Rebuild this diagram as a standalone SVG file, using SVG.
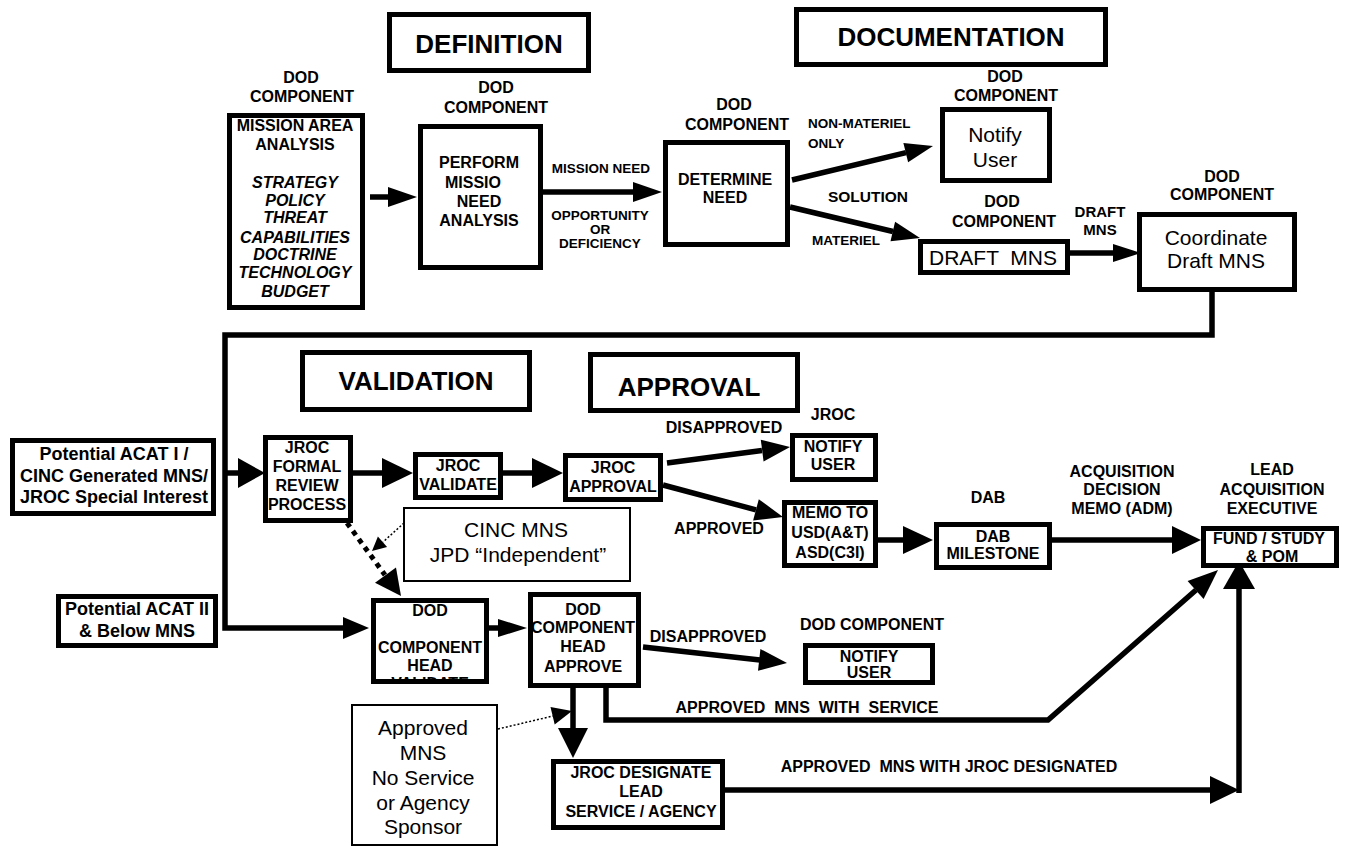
<svg xmlns="http://www.w3.org/2000/svg" width="1349" height="857" viewBox="0 0 1349 857">
<style>
text{font-family:"Liberation Sans",Arial,sans-serif;fill:#000;text-anchor:middle}
.b16{font-weight:bold;font-size:16px}
.b13{font-weight:bold;font-size:13.5px}
.b18{font-weight:bold;font-size:18px}
.bi{font-weight:bold;font-style:italic;font-size:16px}
.r21{font-size:21px}
.t26{font-weight:bold;font-size:26px}
.st{text-anchor:start}
.box{fill:#fff;stroke:#000;stroke-width:5}
.thin{fill:#fff;stroke:#000;stroke-width:2}
.ln{fill:none;stroke:#000;stroke-width:5.5}
.hd{fill:#000;stroke:none}
</style>
<defs>
<clipPath id="clipVal"><rect x="373" y="600" width="113" height="79"/></clipPath>
</defs>
<rect width="1349" height="857" fill="#fff"/>

<g id="title-definition"><rect class="box" x="389.5" y="14.5" width="199" height="56"/><text class="t26" x="489" y="53">DEFINITION</text></g>
<g id="title-documentation"><rect class="box" x="796.5" y="9.5" width="309" height="55"/><text class="t26" x="951" y="46">DOCUMENTATION</text></g>
<g id="title-validation"><rect class="box" x="302.5" y="352.5" width="227" height="57"/><text class="t26" x="416" y="390">VALIDATION</text></g>
<g id="title-approval"><rect class="box" x="590.5" y="354.5" width="207" height="56"/><text class="t26" x="689" y="396">APPROVAL</text></g>

<g id="connectors">
<path class="ln" d="M370,197 H390"/><polygon class="hd" points="417,197 388,187 388,207"/>
<path class="ln" d="M543,192 H635"/><polygon class="hd" points="662,192 633,182 633,202"/>
<path class="ln" d="M792,180 L906,152.6"/><polygon class="hd" points="933,146 908.1,162.3 903.4,142.9"/>
<path class="ln" d="M790,207 L893,231.5"/><polygon class="hd" points="920,238 890.5,241.2 895.1,221.8"/>
<path class="ln" d="M1070,253 H1115"/><polygon class="hd" points="1141,253 1113,244 1113,262"/>
<path class="ln" d="M1212,292 V335 H225 V628 H345"/><polygon class="hd" points="369,628 343,617 343,639"/>
<path class="ln" d="M225,473 H241"/><polygon class="hd" points="265,473 238,458 238,488"/>
<path class="ln" d="M353,473 H385"/><polygon class="hd" points="413,473 382,458 382,488"/>
<path class="ln" d="M503,473 H535"/><polygon class="hd" points="563,473 532,458 532,488"/>
<path class="ln" d="M667,463 L762,450.6"/><polygon class="hd" points="790,447 763.6,461.5 760.8,439.7"/>
<path class="ln" d="M663,485 L756,509.8"/><polygon class="hd" points="783,517 753.1,520.4 758.8,499.2"/>
<path class="ln" d="M878,540 H905"/><polygon class="hd" points="933,540 903,526 903,554"/>
<path class="ln" d="M1052,540 H1174"/><polygon class="hd" points="1201,540 1172,526 1172,554"/>
<path fill="none" stroke="#000" stroke-width="5" stroke-dasharray="5 5" d="M347,523 L385,575"/><polygon class="hd" points="401,596 375,582.8 396,567.4"/>
<path fill="none" stroke="#000" stroke-width="1.5" stroke-dasharray="2 2" d="M404,523 L383,542"/><polygon class="hd" points="372,551 377.9,536.5 387.1,547.1"/>
<path class="ln" d="M489,628 H500"/><polygon class="hd" points="527,628 498,619 498,637"/>
<path class="ln" d="M643,647 L760,659.9"/><polygon class="hd" points="787,663 758,670.8 760.4,649"/>
<path class="ln" d="M573,688 V730"/><polygon class="hd" points="573,758 558,728 588,728"/>
<path fill="none" stroke="#000" stroke-width="1.5" stroke-dasharray="2 2" d="M498,729 L553,716"/><polygon class="hd" points="572,711 554.7,724.4 550.5,707"/>
<path class="ln" d="M606,688 V720 H1048 L1196,590"/><polygon class="hd" points="1218,570 1203.6,598.9 1187.6,581.1"/>
<path class="ln" d="M725,790 H1212"/><polygon class="hd" points="1239,790 1210,776 1210,804"/>
<path class="ln" d="M1239,793 V586"/><polygon class="hd" points="1239,561 1223,589 1255,589"/>
<text class="b13" x="601" y="173">MISSION NEED</text>
<text class="b13" x="600" y="220">OPPORTUNITY</text>
<text class="b13" x="600" y="234">OR</text>
<text class="b13" x="600" y="248">DEFICIENCY</text>
<text class="b13 st" x="808" y="128">NON-MATERIEL</text>
<text class="b13 st" x="808" y="148">ONLY</text>
<text class="b16" x="868" y="202" style="font-size:15.5px">SOLUTION</text>
<text class="b13 st" x="812" y="245">MATERIEL</text>
<text class="b16" x="1100" y="217" style="font-size:15px">DRAFT</text>
<text class="b16" x="1100" y="235" style="font-size:15px">MNS</text>
<text class="b16" x="724" y="433">DISAPPROVED</text>
<text class="b16" x="719" y="534">APPROVED</text>
<text class="b16" x="1122" y="477">ACQUISITION</text>
<text class="b16" x="1122" y="495">DECISION</text>
<text class="b16" x="1122" y="514">MEMO (ADM)</text>
<text class="b16" x="708" y="642">DISAPPROVED</text>
<text class="b16" x="807" y="713" xml:space="preserve">APPROVED  MNS  WITH  SERVICE</text>
<text class="b16" x="949" y="772" xml:space="preserve">APPROVED  MNS WITH JROC DESIGNATED</text>
</g>

<g id="mission-area">
<text class="b16" x="301" y="83">DOD</text><text class="b16" x="302" y="102">COMPONENT</text>
<rect class="box" x="229.5" y="115.5" width="133" height="192"/>
<text class="b16" x="295" y="131">MISSION AREA</text>
<text class="b16" x="295" y="150">ANALYSIS</text>
<text class="bi" x="295" y="188">STRATEGY</text>
<text class="bi" x="295" y="206">POLICY</text>
<text class="bi" x="295" y="223">THREAT</text>
<text class="bi" x="295" y="243">CAPABILITIES</text>
<text class="bi" x="295" y="260">DOCTRINE</text>
<text class="bi" x="295" y="278">TECHNOLOGY</text>
<text class="bi" x="295" y="297">BUDGET</text>
</g>

<g id="perform">
<text class="b16" x="496" y="93">DOD</text><text class="b16" x="496" y="113">COMPONENT</text>
<rect class="box" x="420.5" y="126.5" width="120" height="141"/>
<text class="b16" x="479" y="168">PERFORM</text>
<text class="b16" x="473" y="188">MISSIO</text>
<text class="b16" x="479" y="207">NEED</text>
<text class="b16" x="479" y="226">ANALYSIS</text>
</g>

<g id="determine">
<text class="b16" x="734" y="110">DOD</text><text class="b16" x="737" y="130">COMPONENT</text>
<rect class="box" x="665.5" y="142.5" width="122" height="102"/>
<text class="b16" x="725" y="185">DETERMINE</text>
<text class="b16" x="725" y="203">NEED</text>
</g>

<g id="notify-top">
<text class="b16" x="1005" y="82">DOD</text><text class="b16" x="1006" y="101">COMPONENT</text>
<rect class="box" x="942.5" y="109.5" width="107" height="71"/>
<text class="r21" x="995" y="142">Notify</text>
<text class="r21" x="995" y="167">User</text>
</g>

<g id="draft-mns">
<text class="b16" x="1002" y="207">DOD</text><text class="b16" x="1004" y="227">COMPONENT</text>
<rect class="box" x="920.5" y="241.5" width="147" height="31"/>
<text class="r21" x="993" y="265" xml:space="preserve">DRAFT  MNS</text>
</g>

<g id="coordinate">
<text class="b16" x="1222" y="182">DOD</text><text class="b16" x="1222" y="200">COMPONENT</text>
<rect class="box" x="1139.5" y="214.5" width="155" height="75"/>
<text class="r21" x="1216" y="245">Coordinate</text>
<text class="r21" x="1216" y="268">Draft MNS</text>
</g>

<g id="acat1">
<rect class="box" x="12.5" y="440.5" width="201" height="73"/>
<text class="b18" x="114" y="460">Potential ACAT I /</text>
<text class="b18" x="114" y="482">CINC Generated MNS/</text>
<text class="b18" x="114" y="503">JROC Special Interest</text>
</g>

<g id="acat2">
<rect class="box" x="58.5" y="596.5" width="157" height="49"/>
<text class="b18" x="137" y="615">Potential ACAT II</text>
<text class="b18" x="137" y="637">&amp; Below MNS</text>
</g>

<g id="jroc-formal">
<rect class="box" x="265.5" y="437.5" width="85" height="83"/>
<text class="b16" x="307" y="453">JROC</text>
<text class="b16" x="307" y="472">FORMAL</text>
<text class="b16" x="307" y="491">REVIEW</text>
<text class="b16" x="307" y="510">PROCESS</text>
</g>

<g id="jroc-validate">
<rect class="box" x="415.5" y="454.5" width="85" height="43"/>
<text class="b16" x="458" y="471">JROC</text>
<text class="b16" x="458" y="490">VALIDATE</text>
</g>

<g id="jroc-approval">
<rect class="box" x="565.5" y="455.5" width="95" height="44"/>
<text class="b16" x="613" y="473">JROC</text>
<text class="b16" x="613" y="492">APPROVAL</text>
</g>

<g id="jroc-notify">
<text class="b16" x="833" y="420">JROC</text>
<rect class="box" x="792.5" y="435.5" width="83" height="44"/>
<text class="b16" x="833" y="452">NOTIFY</text>
<text class="b16" x="833" y="470">USER</text>
</g>

<g id="memo">
<rect class="box" x="784.5" y="502.5" width="91" height="63"/>
<text class="b16" x="830" y="518">MEMO TO</text>
<text class="b16" x="830" y="538">USD(A&amp;T)</text>
<text class="b16" x="830" y="558">ASD(C3I)</text>
</g>

<g id="dab">
<text class="b16" x="988" y="503">DAB</text>
<rect class="box" x="936.5" y="524.5" width="113" height="43"/>
<text class="b16" x="993" y="542">DAB</text>
<text class="b16" x="993" y="559">MILESTONE</text>
</g>

<g id="fund">
<text class="b16" x="1272" y="475">LEAD</text>
<text class="b16" x="1272" y="495">ACQUISITION</text>
<text class="b16" x="1272" y="514">EXECUTIVE</text>
<rect class="box" x="1203.5" y="528.5" width="133" height="37"/>
<text class="b16" x="1269" y="544">FUND / STUDY</text>
<text class="b16" x="1272" y="562">&amp; POM</text>
</g>

<g id="cinc-mns">
<rect class="thin" x="404" y="508" width="226" height="73"/>
<text class="r21" x="516" y="537">CINC MNS</text>
<text class="r21" x="518" y="562">JPD “Independent”</text>
</g>

<g id="dod-head-validate">
<rect class="box" x="373.5" y="600.5" width="113" height="81"/>
<text class="b16" x="430" y="616">DOD</text>
<text class="b16" x="430" y="653">COMPONENT</text>
<text class="b16" x="430" y="671">HEAD</text>
<text class="b16" x="430" y="689" clip-path="url(#clipVal)">VALIDATE</text>
</g>

<g id="dod-head-approve">
<rect class="box" x="530.5" y="594.5" width="108" height="91"/>
<text class="b16" x="583" y="615">DOD</text>
<text class="b16" x="583" y="633">COMPONENT</text>
<text class="b16" x="583" y="652">HEAD</text>
<text class="b16" x="583" y="672">APPROVE</text>
</g>

<g id="notify-lower">
<text class="b16" x="872" y="630">DOD COMPONENT</text>
<rect class="box" x="805.5" y="645.5" width="127" height="37"/>
<text class="b16" x="869" y="662">NOTIFY</text>
<text class="b16" x="869" y="678">USER</text>
</g>

<g id="approved-no-sponsor">
<rect class="thin" x="352" y="705" width="145" height="140"/>
<text class="r21" x="423" y="735">Approved</text>
<text class="r21" x="423" y="760">MNS</text>
<text class="r21" x="423" y="785">No Service</text>
<text class="r21" x="423" y="810">or Agency</text>
<text class="r21" x="423" y="834">Sponsor</text>
</g>

<g id="jroc-designate">
<rect class="box" x="553.5" y="761.5" width="169" height="66"/>
<text class="b16" x="641" y="778">JROC DESIGNATE</text>
<text class="b16" x="641" y="797">LEAD</text>
<text class="b16" x="641" y="817">SERVICE / AGENCY</text>
</g>
</svg>
